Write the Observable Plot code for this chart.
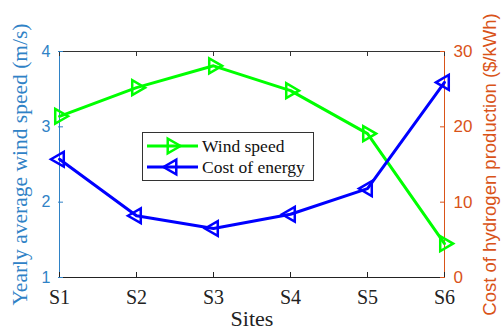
<!DOCTYPE html>
<html><head><meta charset="utf-8">
<script src="https://cdn.jsdelivr.net/npm/d3@7"></script>
<script src="https://cdn.jsdelivr.net/npm/@observablehq/plot@0.6"></script>
<style>
body{margin:0;background:#fff;}
#wrap{position:relative;width:503px;height:332px;}
#legend{position:absolute;left:0;top:0;pointer-events:none;}
</style></head>
<body><div id="wrap"></div>
<script>
const sites = ["S1","S2","S3","S4","S5","S6"];
const windSpeed = [3.14, 3.52, 3.81, 3.48, 2.91, 1.45];
const costEnergy = [15.7, 8.2, 6.5, 8.4, 11.8, 25.9];
const leftTicks = [1,2,3,4];
const rightTicks = [0,10,20,30];
const seriesNames = ["Wind speed","Cost of energy"];

const BLUE_AX = "#2f82c6", ORANGE = "#D95319";
// map cost (0..30) onto the wind-speed y scale (1..4)
const costToY = c => 1 + c/10;
const wind = sites.map((s,i)=>({site:s, v:windSpeed[i]}));
const cost = sites.map((s,i)=>({site:s, v:costToY(costEnergy[i])}));

const serif = "'Liberation Serif','Times New Roman',serif";
const sans = "'Liberation Sans',Arial,sans-serif";
const W=503,H=332,ML=58,MR=58,MT=51,MB=55, FW=W-ML-MR, FH=H-MT-MB, TK=5;

const chart = Plot.plot({
  width:W, height:H,
  marginLeft:ML, marginRight:MR, marginTop:MT, marginBottom:MB,
  style:{background:"#fff", overflow:"visible"},
  x:{type:"point", domain:sites, padding:0, label:null},
  y:{domain:[1,4], label:null},
  marks:[
    Plot.ruleY([4],{stroke:"#333", strokeWidth:1}),
    Plot.ruleY([1],{stroke:"#222", strokeWidth:1}),
    Plot.ruleX(["S1"],{stroke:BLUE_AX, strokeWidth:1}),
    Plot.ruleX(["S6"],{stroke:ORANGE, strokeWidth:1}),
    // inward tick marks
    Plot.tickX(sites,{x:d=>d, insetTop:FH-TK, stroke:"#222"}),
    Plot.tickX(sites,{x:d=>d, insetBottom:FH-TK, stroke:"#333"}),
    Plot.tickY(leftTicks,{y:d=>d, insetRight:FW-TK, stroke:BLUE_AX}),
    Plot.tickY(rightTicks.map(costToY),{y:d=>d, insetLeft:FW-TK, stroke:ORANGE}),
    Plot.axisX({anchor:"bottom", tickSize:0, tickPadding:12, fontFamily:serif, fontSize:20, fill:"#222", label:null}),
    Plot.axisY({anchor:"left", ticks:leftTicks, tickSize:0, tickPadding:8, tickFormat:d=>String(d), fontFamily:sans, fontSize:16, fill:BLUE_AX, label:null}),
    Plot.axisY({anchor:"right", ticks:rightTicks.map(costToY), tickSize:0, tickPadding:8, tickFormat:(d)=>String(Math.round((d-1)*10)), fontFamily:sans, fontSize:17, fill:ORANGE, label:null}),
    Plot.line(wind,{x:"site", y:"v", stroke:"#00ff00", strokeWidth:3}),
    Plot.dot(wind,{x:"site", y:"v", symbol:"triangle", rotate:90, r:5.5, stroke:"#00ff00", strokeWidth:2.5, fill:"none"}),
    Plot.line(cost,{x:"site", y:"v", stroke:"#0000ff", strokeWidth:3}),
    Plot.dot(cost,{x:"site", y:"v", symbol:"triangle", rotate:-90, r:5.5, stroke:"#0000ff", strokeWidth:2.5, fill:"none"}),
    Plot.text(["Yearly average wind speed (m/s)"],{frameAnchor:"left", textAnchor:"middle", dx:-38, rotate:-90, fontFamily:serif, fontSize:21.5, fill:BLUE_AX}),
    Plot.text(["Cost of hydrogen production ($/kWh)"],{frameAnchor:"right", textAnchor:"middle", dx:45, rotate:-90, fontFamily:sans, fontSize:18.5, fill:ORANGE}),
    Plot.text(["Sites"],{frameAnchor:"bottom", dy:48, fontFamily:serif, fontSize:22, fill:"#222"})
  ]
});
const wrap = document.getElementById("wrap");
wrap.appendChild(chart);

// legend overlay
const lg = d3.select(wrap).append("svg").attr("id","legend").attr("width",W).attr("height",H);
lg.append("rect").attr("x",142.5).attr("y",132.5).attr("width",171).attr("height",48).attr("fill","#fff").attr("stroke","#333");
const cols = ["#00ff00","#0000ff"], rots=[90,-90];
seriesNames.forEach((n,i)=>{
  const y = 146 + i*21;
  lg.append("line").attr("x1",147).attr("x2",198).attr("y1",y).attr("y2",y).attr("stroke",cols[i]).attr("stroke-width",3);
  lg.append("path").attr("d", d3.symbol(d3.symbolTriangle, 5.5*5.5*Math.PI)()).attr("transform",`translate(172,${y}) rotate(${rots[i]})`).attr("fill","none").attr("stroke",cols[i]).attr("stroke-width",2.5);
  lg.append("text").attr("x",202).attr("y",y).attr("dy","0.35em").attr("font-family",serif).attr("font-size",17.5).attr("fill","#111").text(n);
});
</script></body></html>
